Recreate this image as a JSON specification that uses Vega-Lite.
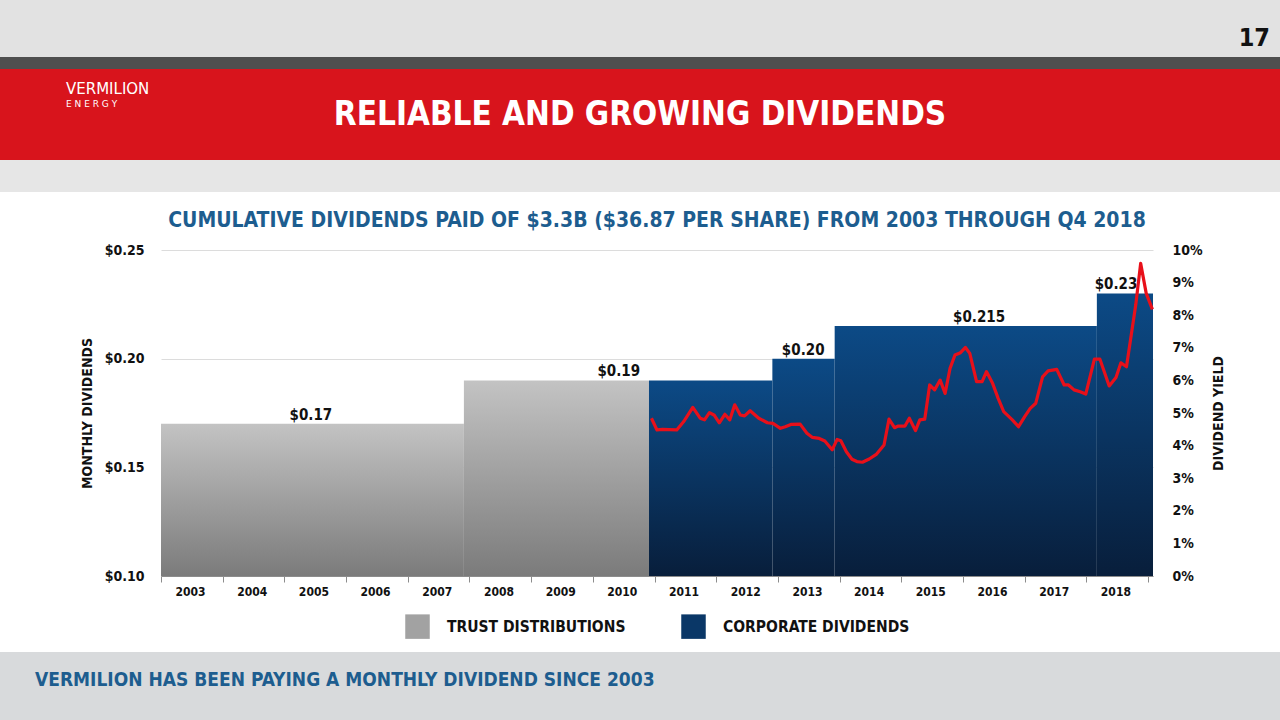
{
  "$schema": "https://vega.github.io/schema/vega-lite/v6.json",
  "background": "#ffffff",
  "padding": 0,
  "spacing": 18,
  "resolve": {"legend": {"fill": "independent"}},
  "config": {
    "font": "DejaVu Sans Condensed, sans-serif",
    "view": {"stroke": null},
    "concat": {"spacing": 0},
    "axis": {
      "labelFont": "DejaVu Sans Condensed, sans-serif",
      "titleFont": "DejaVu Sans Condensed, sans-serif",
      "labelFontWeight": "bold",
      "titleFontWeight": "bold",
      "labelColor": "#111111",
      "titleColor": "#111111"
    },
    "legend": {
      "labelFont": "DejaVu Sans Condensed, sans-serif",
      "labelFontWeight": "bold",
      "labelColor": "#111111",
      "layout": {"bottom": {"anchor": "middle"}}
    },
    "title": {"font": "DejaVu Sans Condensed, sans-serif"}
  },
  "vconcat": [
    {
      "spacing": 0,
      "vconcat": [
        {
          "width": 1280,
          "height": 57,
          "view": {"fill": "#e2e2e2", "stroke": null},
          "title": {"text": "17", "anchor": "end", "orient": "top", "offset": -51, "dx": -10, "fontSize": 25, "fontWeight": "bold", "color": "#111111"},
          "data": {"values": []},
          "mark": "text",
          "encoding": {}
        },
        {
          "width": 1280,
          "height": 12,
          "view": {"fill": "#4f4f4f", "stroke": null},
          "data": {"values": []},
          "mark": "text",
          "encoding": {}
        },
        {
          "width": 1280,
          "height": 91,
          "view": {"fill": "#d8141c", "stroke": null},
          "title": {"text": "VERMILION", "subtitle": "E   N   E   R   G   Y", "anchor": "start", "orient": "top", "dx": 66, "offset": -40, "fontSize": 15, "font": "DejaVu Sans", "fontWeight": "normal", "color": "#ffffff", "subtitleColor": "#ffffff", "subtitleFont": "DejaVu Sans", "subtitleFontSize": 9, "subtitlePadding": 3},
          "data": {"values": [{"heading": "RELIABLE AND GROWING DIVIDENDS"}]},
          "mark": {"type": "text", "color": "#ffffff", "fontSize": 33, "fontWeight": "bold", "baseline": "middle"},
          "encoding": {"text": {"field": "heading"}}
        },
        {
          "width": 1280,
          "height": 32,
          "view": {"fill": "#e6e6e6", "stroke": null},
          "data": {"values": []},
          "mark": "text",
          "encoding": {}
        }
      ]
    },
    {
      "spacing": 13,
      "resolve": {"legend": {"fill": "independent"}},
      "vconcat": [
        {
          "spacing": 0,
          "resolve": {"legend": {"fill": "independent"}},
          "hconcat": [
            {
              "width": 80,
              "height": 10,
              "view": {"stroke": null},
              "data": {"values": []},
              "mark": "text",
              "encoding": {}
            },
            {
              "width": 992,
              "height": 326,
              "view": {"fill": "#ffffff", "stroke": null},
              "title": {"text": "CUMULATIVE DIVIDENDS PAID OF $3.3B ($36.87 PER SHARE) FROM 2003 THROUGH Q4 2018", "fontSize": 21, "fontWeight": "bold", "color": "#1d5d8f", "anchor": "middle", "offset": 12},
              "layer": [
                {
                  "layer": [
                    {
                      "data": {"values": [
                        {"year": 2003, "end": 2007.91, "dividend": 0.17, "type": "TRUST DISTRIBUTIONS"},
                        {"year": 2007.91, "end": 2010.91, "dividend": 0.19, "type": "TRUST DISTRIBUTIONS"},
                        {"year": 2010.91, "end": 2012.91, "dividend": 0.19, "type": "CORPORATE DIVIDENDS"},
                        {"year": 2012.91, "end": 2013.92, "dividend": 0.2, "type": "CORPORATE DIVIDENDS"},
                        {"year": 2013.92, "end": 2018.17, "dividend": 0.215, "type": "CORPORATE DIVIDENDS"},
                        {"year": 2018.17, "end": 2019.08, "dividend": 0.23, "type": "CORPORATE DIVIDENDS"}
                      ]},
                      "mark": {"type": "rect"},
                      "encoding": {
                        "x": {
                          "field": "year", "type": "quantitative", "title": null,
                          "scale": {"domain": [2003, 2019.08], "nice": false, "zero": false},
                          "axis": {
                            "values": [2003, 2004, 2005, 2006, 2007, 2008, 2009, 2010, 2011, 2012, 2013, 2014, 2015, 2016, 2017, 2018, 2019],
                            "labelExpr": "datum.value < 2019 ? '' + datum.value : ''",
                            "labelOffset": 29, "labelPadding": 4, "labelFontSize": 12,
                            "labelFlush": false, "labelOverlap": false, "labelBound": false,
                            "tickSize": 6, "tickColor": "#8c8c8c", "domainColor": "#8c8c8c", "grid": false
                          }
                        },
                        "x2": {"field": "end"},
                        "y": {
                          "field": "dividend", "type": "quantitative",
                          "scale": {"domain": [0.1, 0.25], "nice": false, "zero": false},
                          "axis": {
                            "orient": "left", "values": [0.1, 0.15, 0.2, 0.25], "format": "$.2f",
                            "title": "MONTHLY DIVIDENDS", "titleFontSize": 14, "titlePadding": 10,
                            "labelFontSize": 14, "labelPadding": 17, "ticks": false, "domain": false,
                            "grid": true, "gridColor": "#dcdcdc", "gridWidth": 1
                          }
                        },
                        "y2": {"datum": 0.1},
                        "fill": {
                          "field": "type", "type": "nominal",
                          "scale": {
                            "domain": ["TRUST DISTRIBUTIONS", "CORPORATE DIVIDENDS"],
                            "range": ["#a2a2a2", "#0a3767"]
                          },
                          "condition": [
                            {"test": "datum.type === 'TRUST DISTRIBUTIONS'", "value": {"gradient": "linear", "x1": 0, "y1": 0, "x2": 0, "y2": 1, "stops": [{"offset": 0, "color": "#c3c3c3"}, {"offset": 1, "color": "#7b7b7b"}]}},
                            {"test": "datum.type === 'CORPORATE DIVIDENDS'", "value": {"gradient": "linear", "x1": 0, "y1": 0, "x2": 0, "y2": 1, "stops": [{"offset": 0, "color": "#0c4a86"}, {"offset": 1, "color": "#081e3b"}]}}
                          ],
                          "legend": {
                            "title": null, "orient": "bottom", "direction": "horizontal", "offset": 17,
                            "symbolType": "square", "symbolSize": 600, "symbolStrokeWidth": 0,
                            "labelFontSize": 15.5, "labelOffset": 17, "columnPadding": 55, "labelLimit": 300
                          }
                        }
                      }
                    },
                    {
                      "data": {"values": [
                        {"year": 2005.43, "dividend": 0.17, "label": "$0.17"},
                        {"year": 2010.42, "dividend": 0.19, "label": "$0.19"},
                        {"year": 2013.41, "dividend": 0.2, "label": "$0.20"},
                        {"year": 2016.26, "dividend": 0.215, "label": "$0.215"},
                        {"year": 2018.48, "dividend": 0.23, "label": "$0.23"}
                      ]},
                      "mark": {"type": "text", "baseline": "alphabetic", "dy": -4, "fontSize": 15, "fontWeight": "bold", "color": "#111111"},
                      "encoding": {
                        "x": {"field": "year", "type": "quantitative", "title": null},
                        "y": {"field": "dividend", "type": "quantitative"},
                        "text": {"field": "label"}
                      }
                    }
                  ]
                },
                {
                  "data": {"values": [
                    {"year": 2010.95, "yield": 4.84}, {"year": 2011.04, "yield": 4.48}, {"year": 2011.13, "yield": 4.5},
                    {"year": 2011.24, "yield": 4.49}, {"year": 2011.36, "yield": 4.48}, {"year": 2011.47, "yield": 4.73},
                    {"year": 2011.62, "yield": 5.17}, {"year": 2011.74, "yield": 4.84}, {"year": 2011.81, "yield": 4.79},
                    {"year": 2011.89, "yield": 5.01}, {"year": 2011.97, "yield": 4.93}, {"year": 2012.05, "yield": 4.7},
                    {"year": 2012.14, "yield": 4.96}, {"year": 2012.22, "yield": 4.79}, {"year": 2012.3, "yield": 5.25},
                    {"year": 2012.39, "yield": 4.94}, {"year": 2012.46, "yield": 4.91}, {"year": 2012.55, "yield": 5.07},
                    {"year": 2012.69, "yield": 4.84}, {"year": 2012.83, "yield": 4.7}, {"year": 2012.92, "yield": 4.68},
                    {"year": 2013.04, "yield": 4.53}, {"year": 2013.12, "yield": 4.58}, {"year": 2013.21, "yield": 4.65},
                    {"year": 2013.36, "yield": 4.66}, {"year": 2013.47, "yield": 4.38}, {"year": 2013.56, "yield": 4.25},
                    {"year": 2013.67, "yield": 4.22}, {"year": 2013.76, "yield": 4.14}, {"year": 2013.88, "yield": 3.87},
                    {"year": 2013.96, "yield": 4.19}, {"year": 2014.02, "yield": 4.15}, {"year": 2014.11, "yield": 3.81},
                    {"year": 2014.2, "yield": 3.58}, {"year": 2014.28, "yield": 3.51}, {"year": 2014.37, "yield": 3.49},
                    {"year": 2014.48, "yield": 3.59}, {"year": 2014.6, "yield": 3.74}, {"year": 2014.72, "yield": 4.02},
                    {"year": 2014.8, "yield": 4.81}, {"year": 2014.89, "yield": 4.55}, {"year": 2014.95, "yield": 4.6},
                    {"year": 2015.06, "yield": 4.6}, {"year": 2015.13, "yield": 4.84}, {"year": 2015.23, "yield": 4.46},
                    {"year": 2015.3, "yield": 4.79}, {"year": 2015.38, "yield": 4.81}, {"year": 2015.46, "yield": 5.86},
                    {"year": 2015.54, "yield": 5.71}, {"year": 2015.63, "yield": 6.01}, {"year": 2015.71, "yield": 5.6},
                    {"year": 2015.79, "yield": 6.37}, {"year": 2015.87, "yield": 6.78}, {"year": 2015.96, "yield": 6.85},
                    {"year": 2016.04, "yield": 7.01}, {"year": 2016.11, "yield": 6.83}, {"year": 2016.22, "yield": 5.96},
                    {"year": 2016.31, "yield": 5.96}, {"year": 2016.38, "yield": 6.27}, {"year": 2016.48, "yield": 5.91},
                    {"year": 2016.57, "yield": 5.45}, {"year": 2016.66, "yield": 5.04}, {"year": 2016.8, "yield": 4.79},
                    {"year": 2016.9, "yield": 4.58}, {"year": 2017.0, "yield": 4.89}, {"year": 2017.09, "yield": 5.14},
                    {"year": 2017.18, "yield": 5.3}, {"year": 2017.29, "yield": 6.11}, {"year": 2017.38, "yield": 6.29},
                    {"year": 2017.52, "yield": 6.34}, {"year": 2017.64, "yield": 5.86}, {"year": 2017.71, "yield": 5.86},
                    {"year": 2017.8, "yield": 5.71}, {"year": 2017.9, "yield": 5.65}, {"year": 2017.99, "yield": 5.58},
                    {"year": 2018.13, "yield": 6.65}, {"year": 2018.22, "yield": 6.65}, {"year": 2018.37, "yield": 5.83},
                    {"year": 2018.48, "yield": 6.09}, {"year": 2018.56, "yield": 6.54}, {"year": 2018.65, "yield": 6.42},
                    {"year": 2018.8, "yield": 8.31}, {"year": 2018.88, "yield": 9.59}, {"year": 2018.97, "yield": 8.67},
                    {"year": 2019.07, "yield": 8.18}
                  ]},
                  "mark": {"type": "line", "color": "#e8101a", "strokeWidth": 3.2, "strokeJoin": "round"},
                  "encoding": {
                    "x": {"field": "year", "type": "quantitative", "title": null},
                    "y": {
                      "field": "yield", "type": "quantitative",
                      "scale": {"domain": [0, 10], "nice": false},
                      "axis": {
                        "orient": "right", "values": [0, 1, 2, 3, 4, 5, 6, 7, 8, 9, 10],
                        "labelExpr": "datum.value + '%'",
                        "title": "DIVIDEND YIELD", "titleFontSize": 14, "titlePadding": 9, "titleAngle": 270, "titleBaseline": "top",
                        "labelFontSize": 14, "labelPadding": 19, "ticks": false, "domain": false, "grid": false
                      }
                    }
                  }
                }
              ],
              "resolve": {"scale": {"y": "independent"}, "axis": {"y": "independent"}}
            }
          ]
        },
        {
          "width": 1280,
          "height": 68,
          "view": {"fill": "#d8dadc", "stroke": null},
          "title": {"text": "VERMILION HAS BEEN PAYING A MONTHLY DIVIDEND SINCE 2003", "anchor": "start", "orient": "top", "offset": -38, "dx": 35, "fontSize": 19, "fontWeight": "bold", "color": "#1d5d8f"},
          "data": {"values": []},
          "mark": "text",
          "encoding": {}
        }
      ]
    }
  ]
}
